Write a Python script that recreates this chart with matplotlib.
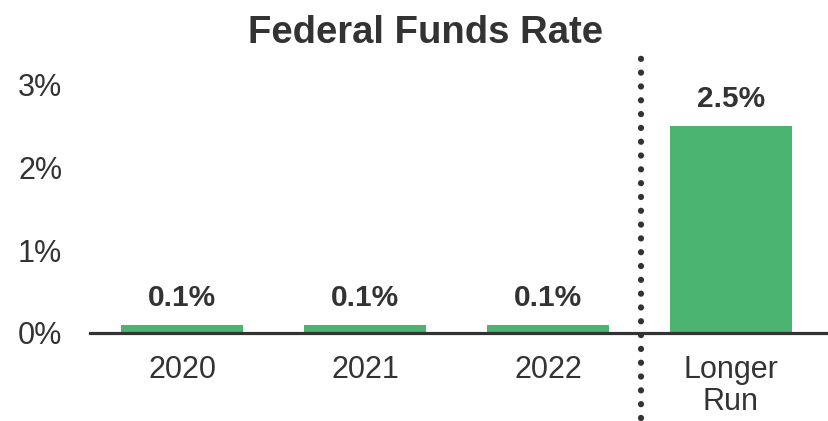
import matplotlib.pyplot as plt
import numpy as np

plt.rcParams['font.family'] = ['Liberation Sans', 'DejaVu Sans']

# data
categories = ["2020", "2021", "2022", "Longer\nRun"]
rates = [0.1, 0.1, 0.1, 2.5]
value_labels = ["0.1%", "0.1%", "0.1%", "2.5%"]
yticks = [0, 1, 2, 3]
ytick_labels = ["0%", "1%", "2%", "3%"]

green = "#4bb470"
dark = "#333333"

fig = plt.figure(figsize=(8.29, 4.21), dpi=100)
ax = fig.add_axes([90/829, 88/421, 739/829, 265/421])

x = np.arange(len(categories))
ax.bar(x, rates, width=0.667, color=green, zorder=2)

for xi, r, lab in zip(x, rates, value_labels):
    ax.annotate(lab, (xi, r), xytext=(0, 9), textcoords="offset points",
                ha="center", va="bottom", fontsize=21.5, fontweight="bold", color=dark)

ax.set_xlim(-0.503, 3.536)
ax.set_ylim(0, 3.2)
ax.set_yticks(yticks)
ax.set_yticklabels(ytick_labels)
ax.set_xticks(x)
ax.set_xticklabels(categories, linespacing=1.08)
ax.tick_params(axis="both", length=0, labelsize=22, labelcolor=dark)
ax.tick_params(axis="y", pad=20)
ax.tick_params(axis="x", pad=16)

for s in ["top", "right", "left"]:
    ax.spines[s].set_visible(False)
ax.spines["bottom"].set_color(dark)
ax.spines["bottom"].set_linewidth(2.3)
ax.spines["bottom"].set_zorder(3)

# dotted separator between forecast years and longer run
ax.plot([2.508, 2.508], [-1.03, 3.35], linestyle=(0, (0.01, 2.2)), linewidth=4.5,
        dash_capstyle="round", color=dark, clip_on=False, zorder=4)

fig.suptitle("Federal Funds Rate", x=0.513, y=0.965, fontsize=27.5, fontweight="bold", color=dark)

fig.savefig("out.png", dpi=100)
